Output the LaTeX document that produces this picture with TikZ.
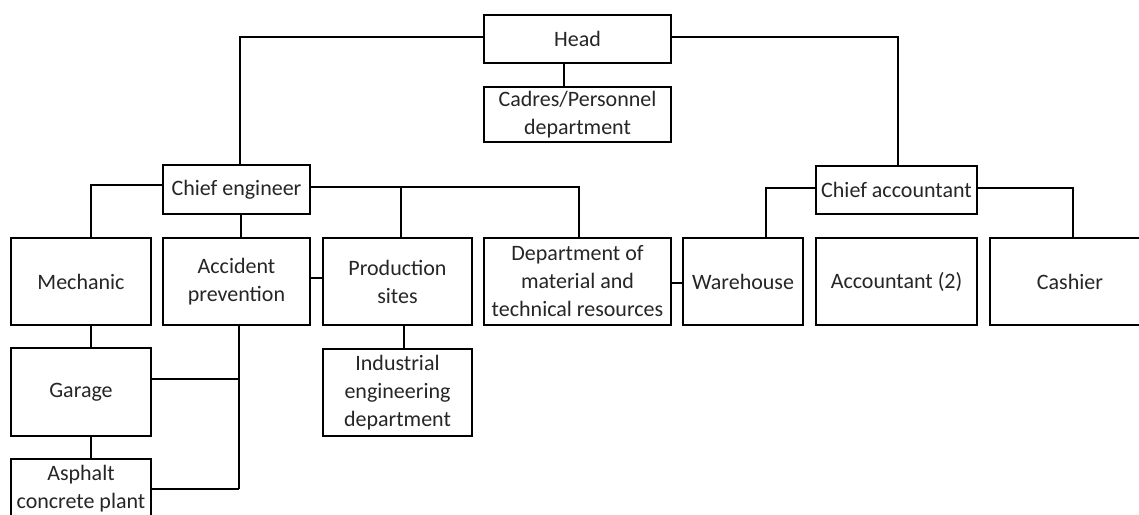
\documentclass[tikz,border=0pt]{standalone}
\usepackage{fontspec}
\setmainfont{Carlito}
\usetikzlibrary{calc}
\tikzset{
  unit/.style={draw, line width=1.6pt, inner sep=0pt, align=center,
    font=\fontsize{22}{28}\selectfont, text=black!85},
  link/.style={line width=1.6pt}
}
\begin{document}
\begin{tikzpicture}[x=1pt,y=-1pt]
\useasboundingbox (0,0) rectangle (1139,514);
\clip (0,0) rectangle (1139,514);
\fill[white] (0,0) rectangle (1139,514);

% top level
\node[unit, minimum width=187pt, minimum height=48pt] (head) at (577.5,39) {Head};
\node[unit, minimum width=187pt, minimum height=55pt] (cadres) at (577.5,114.5) {Cadres/Personnel\\department};
\node[unit, minimum width=147pt, minimum height=49pt] (chiefeng) at (236.5,189.5) {Chief engineer};
\node[unit, minimum width=161pt, minimum height=48pt] (chiefacct) at (896.5,190) {Chief accountant};

% departments
\node[unit, minimum width=140pt, minimum height=87pt] (mechanic) at (81,281.5) {Mechanic};
\node[unit, minimum width=147pt, minimum height=87pt] (accident) at (236.5,281.5) {Accident\\prevention};
\node[unit, minimum width=149pt, minimum height=87pt] (production) at (397.5,281.5) {Production\\sites};
\node[unit, minimum width=187pt, minimum height=87pt] (dept) at (577.5,281.5) {Department of\\material and\\technical resources};
\node[unit, minimum width=120pt, minimum height=87pt] (warehouse) at (743,281.5) {Warehouse};
\node[unit, minimum width=161pt, minimum height=87pt] (accountant) at (896.5,281.5) {Accountant (2)};
\node[unit, minimum width=160pt, minimum height=87pt] (cashier) at (1070,281.5) {Cashier};

% lower units
\node[unit, minimum width=140pt, minimum height=88pt] (garage) at (81,392) {Garage};
\node[unit, minimum width=140pt, minimum height=60pt] (asphalt) at (81,489) {Asphalt\\concrete plant};
\node[unit, minimum width=149pt, minimum height=87pt] (industrial) at (397.5,392.5) {Industrial\\engineering\\department};

% junction points
\coordinate (aprail) at ([xshift=2.5pt]accident.south |- asphalt.east);
\coordinate (ceright) at ([yshift=2.5pt]chiefeng.east);

% connectors from the head
\draw[link] ([yshift=2pt]head.west) -| ([xshift=3.5pt]chiefeng.north);
\draw[link] ([yshift=2pt]head.east) -| ([xshift=1.5pt]chiefacct.north);
\draw[link] ([xshift=-13.5pt]head.south) -- ([xshift=-13.5pt]cadres.north);

% chief engineer branches
\draw[link] ([yshift=4.5pt]chiefeng.west) -| ([xshift=10pt]mechanic.north);
\draw[link] ([xshift=4.5pt]chiefeng.south) -- ([xshift=4.5pt]accident.north);
\draw[link] (ceright) -| ([xshift=1.5pt]dept.north);
\draw[link] ([xshift=3.5pt]production.north |- ceright) -- ([xshift=3.5pt]production.north);
\draw[link] ([yshift=3.5pt]accident.east) -- ([yshift=3.5pt]production.west);
\draw[link] ([yshift=-1.5pt]dept.east) -- ([yshift=-1.5pt]warehouse.west);
\draw[link] ([xshift=6.5pt]production.south) -- ([xshift=6.5pt]industrial.north);

% mechanic chain
\draw[link] ([xshift=10pt]mechanic.south) -- ([xshift=10pt]garage.north);
\draw[link] ([xshift=10pt]garage.south) -- ([xshift=10pt]asphalt.north);

% accident prevention rail
\draw[link] ([xshift=2.5pt]accident.south) -- (aprail);
\draw[link] ([yshift=13pt]garage.east) -- ([yshift=13pt]garage.east -| aprail);
\draw[link] (asphalt.east) -- (aprail);

% chief accountant branches
\draw[link] ([yshift=2pt]chiefacct.west) -| ([xshift=23pt]warehouse.north);
\draw[link] ([yshift=2pt]chiefacct.east) -| ([xshift=3pt]cashier.north);
\end{tikzpicture}
\end{document}
